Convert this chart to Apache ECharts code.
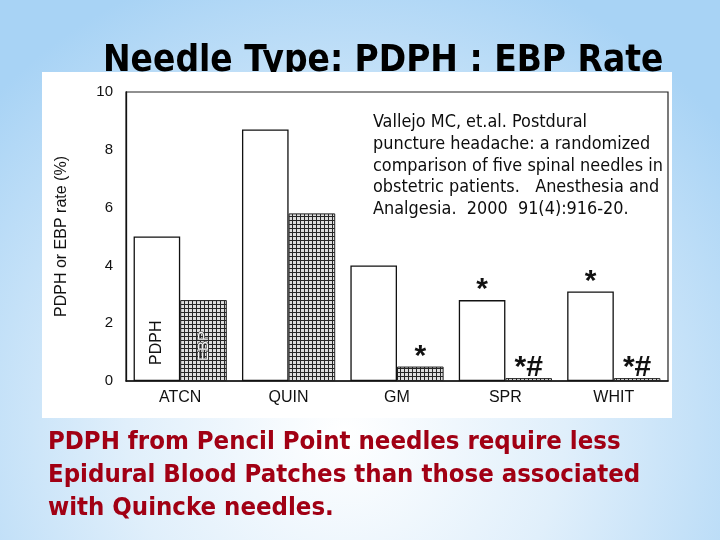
<!DOCTYPE html>
<html><head><meta charset="utf-8">
<script src="https://cdn.jsdelivr.net/npm/echarts@6/dist/echarts.min.js"></script>
<style>html,body{margin:0;padding:0;background:#fff;}#c{width:720px;height:540px;}</style>
</head><body><div id="c"></div>
<script>
// ---- data ----
const titleText = 'Needle Type: PDPH : EBP Rate';
const categories = ['ATCN', 'QUIN', 'GM', 'SPR', 'WHIT'];
const pdphRate = [5.0, 8.7, 4.0, 2.8, 3.1];
const ebpRate = [2.8, 5.8, 0.5, 0.1, 0.1];
const pdphMarks = ['', '', '', '*', '*'];
const ebpMarks = ['', '', '*', '*#', '*#'];
const yAxisName = 'PDPH or EBP rate (%)';
const citationLines = [
  'Vallejo MC, et.al. Postdural',
  'puncture headache: a randomized',
  'comparison of five spinal needles in',
  'obstetric patients.   Anesthesia and',
  'Analgesia.  2000  91(4):916-20.'
];
const conclusionLines = [
  'PDPH from Pencil Point needles require less',
  'Epidural Blood Patches than those associated',
  'with Quincke needles.'
];

// ---- helpers ----
const slideFont = "'DejaVu Sans Condensed', 'DejaVu Sans', sans-serif";
const chartFont = "'Liberation Sans', Arial, sans-serif";
function fitSize(text, weight, family, targetWidth) {
  const ctx = document.createElement('canvas').getContext('2d');
  ctx.font = weight + ' 100px ' + family;
  return 100 * targetWidth / ctx.measureText(text).width;
}
const titleSize = fitSize(titleText, 'bold', slideFont, 560);
const citeSize = fitSize(citationLines[2], 'normal', slideFont, 290);
const conclSize = fitSize(conclusionLines[1], 'bold', slideFont, 592);

// hatch pattern for EBP bars
const hatch = document.createElement('canvas');
hatch.width = 4; hatch.height = 4;
(function () {
  const g = hatch.getContext('2d');
  g.fillStyle = '#dedede'; g.fillRect(0, 0, 4, 4);
  g.fillStyle = '#262626';
  g.fillRect(0, 0, 1, 4);
  g.fillRect(0, 0, 4, 1);
})();

const chart = echarts.init(document.getElementById('c'), null, { renderer: 'canvas' });

const pdphData = pdphRate.map((v, i) => i === 0 ? {
  value: v,
  label: { show: true, formatter: 'PDPH', position: 'insideBottom', rotate: 90, distance: 16,
    align: 'left', verticalAlign: 'middle', fontSize: 16, fontWeight: 'normal', fontFamily: chartFont, color: '#111' }
} : v);
const ebpData = ebpRate.map((v, i) => i === 0 ? {
  value: v,
  label: { show: true, formatter: 'EBP', position: 'insideBottom', rotate: 90, distance: 20,
    align: 'left', verticalAlign: 'middle', fontSize: 15, fontWeight: 'normal', fontFamily: chartFont,
    color: '#f4f4f4', textBorderColor: '#333', textBorderWidth: 1.2 }
} : v);

const option = {
  animation: false,
  graphic: [
    { type: 'rect', z: -30, silent: true, shape: { x: 0, y: 0, width: 720, height: 540 },
      style: { fill: new echarts.graphic.RadialGradient(0.48, 0.8, 0.9, [
        { offset: 0, color: '#ffffff' },
        { offset: 0.45, color: '#e0effb' },
        { offset: 1, color: '#a8d3f5' }
      ]) } },
    { type: 'text', z: -20, silent: true, left: 103, top: 43,
      style: { text: titleText, font: 'bold ' + titleSize.toFixed(1) + 'px ' + slideFont,
        fill: new echarts.graphic.LinearGradient(0, 0, 0, 1, [
          { offset: 0, color: '#4d4d4d' }, { offset: 1, color: '#1e1e1e' }
        ]) } },
    { type: 'rect', z: -10, silent: true, shape: { x: 42, y: 72, width: 630, height: 346 },
      style: { fill: '#ffffff' } },
    { type: 'text', z: 10, silent: true, left: 373, top: 112,
      style: { text: citationLines.join('\n'), font: citeSize.toFixed(1) + 'px ' + slideFont,
        lineHeight: 21.6, fill: '#0d0d0d' } },
    { type: 'text', z: 10, silent: true, left: 48, top: 426,
      style: { text: conclusionLines.join('\n'), font: 'bold ' + conclSize.toFixed(1) + 'px ' + slideFont,
        lineHeight: 33, fill: '#a10014' } }
  ],
  grid: { left: 126, right: 52, top: 92, bottom: 159, show: true, borderColor: '#222', borderWidth: 1.2,
    backgroundColor: 'transparent' },
  xAxis: {
    type: 'category', data: categories,
    axisLine: { lineStyle: { color: '#111', width: 1.5 } },
    axisTick: { show: false },
    axisLabel: { fontSize: 16, fontFamily: chartFont, color: '#111', margin: 9 }
  },
  yAxis: {
    type: 'value', min: 0, max: 10, interval: 2,
    name: yAxisName, nameLocation: 'middle', nameRotate: 90, nameGap: 56,
    nameTextStyle: { fontSize: 16, fontFamily: chartFont, color: '#111' },
    axisLine: { show: true, lineStyle: { color: '#111', width: 1.3 } },
    axisTick: { show: false },
    splitLine: { show: false },
    axisLabel: { fontSize: 15, fontFamily: chartFont, color: '#111', margin: 13 }
  },
  series: [
    { name: 'PDPH', type: 'bar', data: pdphData, barGap: '0%', barCategoryGap: '14%',
      itemStyle: { color: '#ffffff', borderColor: '#111', borderWidth: 1.3 },
      label: { show: true, position: 'top', distance: -5, fontSize: 30, fontWeight: 'bold', fontFamily: chartFont, color: '#111',
        formatter: p => pdphMarks[p.dataIndex] } },
    { name: 'EBP', type: 'bar', data: ebpData,
      itemStyle: { color: { image: hatch, repeat: 'repeat' }, borderColor: '#222', borderWidth: 1 },
      label: { show: true, position: 'top', distance: -5, fontSize: 30, fontWeight: 'bold', fontFamily: chartFont, color: '#111',
        formatter: p => ebpMarks[p.dataIndex] } }
  ]
};
chart.setOption(option);
</script>
</body></html>
